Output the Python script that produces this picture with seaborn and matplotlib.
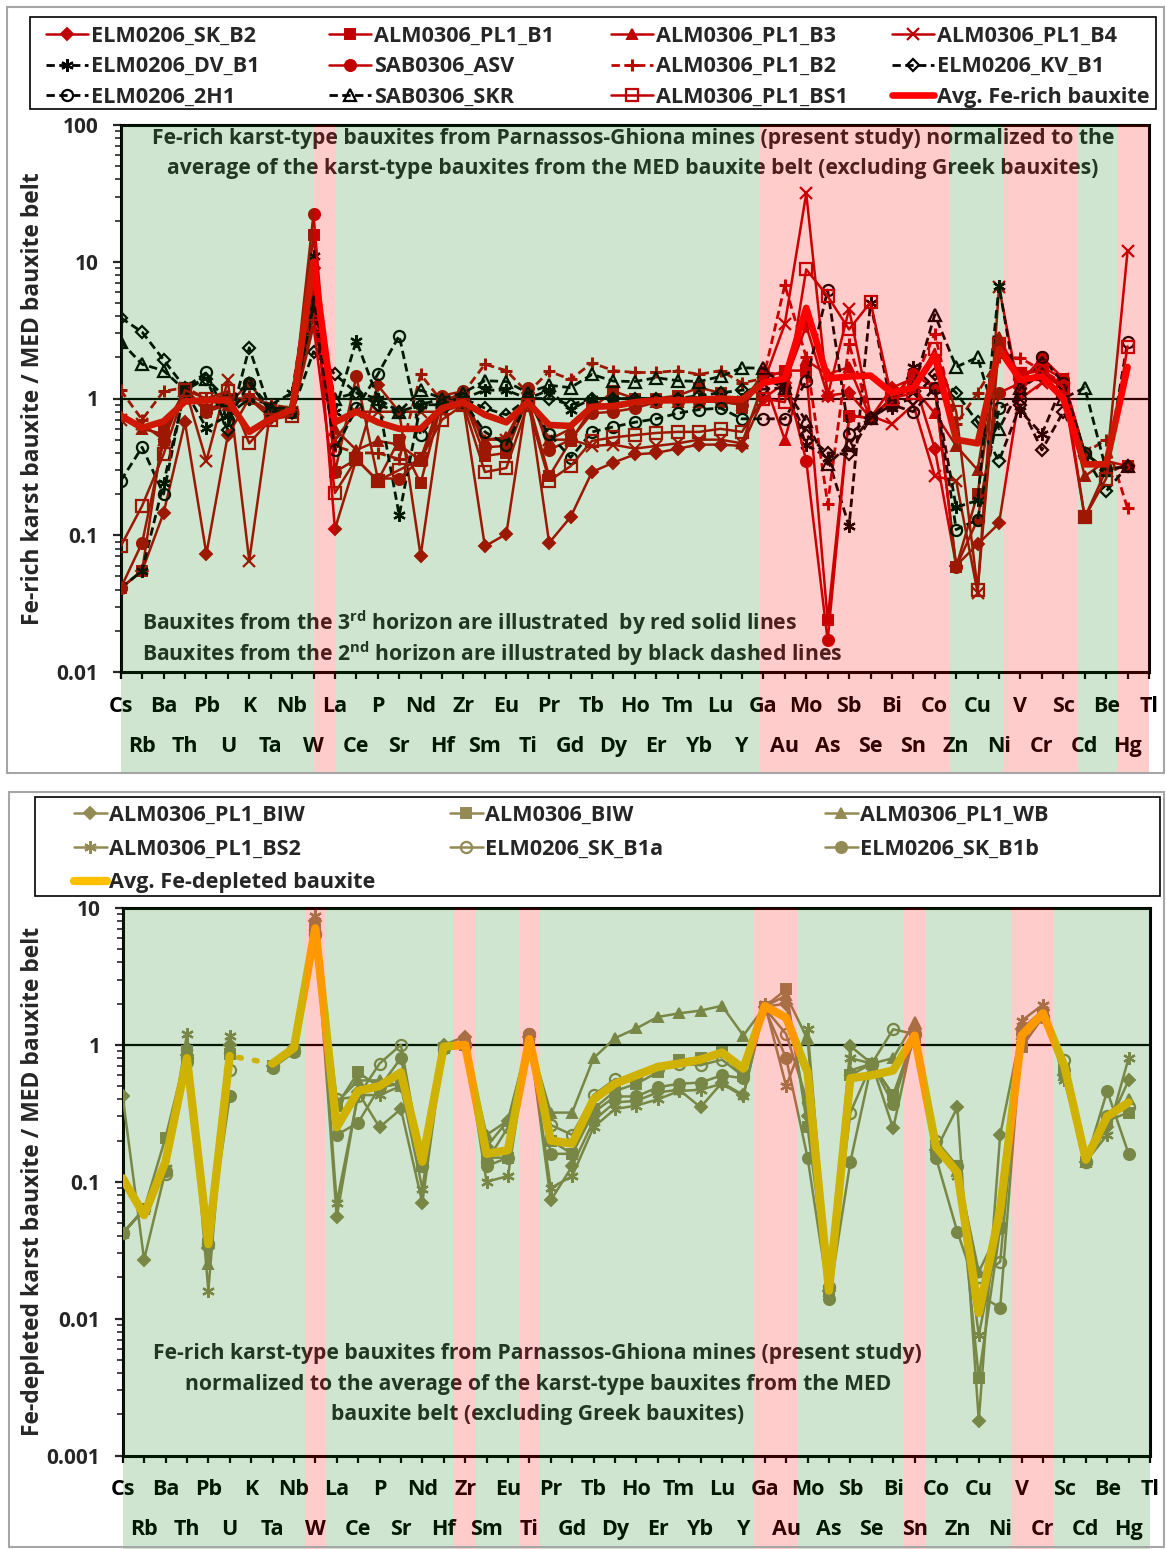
import numpy as np
import matplotlib
matplotlib.use('Agg')
import matplotlib.pyplot as plt
import matplotlib.transforms as mtransforms
from matplotlib.patches import Rectangle
from matplotlib.lines import Line2D
from matplotlib.ticker import FuncFormatter, NullFormatter, LogLocator
import seaborn as sns

nan = np.nan

# Elements on the x axis (Cs ... Tl)
elements = ['Cs', 'Rb', 'Ba', 'Th', 'Pb', 'U', 'K', 'Ta', 'Nb', 'W', 'La', 'Ce', 'P', 'Sr',
            'Nd', 'Hf', 'Zr', 'Sm', 'Eu', 'Ti', 'Pr', 'Gd', 'Tb', 'Dy', 'Ho', 'Er', 'Tm',
            'Yb', 'Lu', 'Y', 'Ga', 'Au', 'Mo', 'As', 'Sb', 'Se', 'Bi', 'Sn', 'Co', 'Zn',
            'Cu', 'Ni', 'V', 'Cr', 'Sc', 'Cd', 'Be', 'Hg', 'Tl']

# ---- Fe-rich bauxites (top panel) ----
elm_sk_b2 = [0.041, 0.055, 0.145, 0.67, 0.073, 0.54, 1.0, 0.72, 0.78, 9.0, 0.111, 0.36, 1.25, 0.8,
             0.071, 0.85, 0.9, 0.083, 0.102, 1.1, 0.088, 0.136, 0.29, 0.34, 0.39, 0.40, 0.43,
             0.46, 0.46, 0.45, 1.0, 1.3, 3.4, 1.05, 1.1, 0.72, 1.2, 1.4, 0.43, 0.06,
             0.086, 0.122, 1.2, 1.5, 1.3, 0.4, 0.3, 0.32, nan]
alm_pl1_b1 = [0.041, 0.055, 0.59, 1.15, 0.8, 1.0, 1.0, 0.8, 0.78, 15.7, 0.29, 0.36, 0.25, 0.5,
              0.24, 0.95, 1.0, 0.38, 0.4, 1.0, 0.27, 0.49, 0.85, 1.13, 1.0, 1.0, 1.05,
              1.2, 1.1, 0.85, 1.4, 1.6, 1.6, 0.024, 0.75, 0.72, 1.0, 1.2, 1.2, 0.059,
              0.2, 2.4, 1.5, 1.7, 1.4, 0.135, 0.3, 0.32, nan]
alm_pl1_b3 = [0.75, 0.6, 0.55, 1.1, 0.85, 0.9, 1.0, 0.75, 0.8, 6.0, 0.6, 0.42, 0.49, 0.46,
              0.35, 0.9, 1.0, 0.5, 0.52, 1.05, 0.5, 0.6, 0.9, 0.9, 0.95, 0.95, 0.95,
              0.95, 0.95, 0.9, 1.4, 0.5, 1.9, 1.5, 1.7, 0.72, 1.0, 1.2, 0.78, 0.45,
              0.3, 2.8, 1.4, 1.5, 1.2, 0.27, 0.35, 0.32, nan]
alm_pl1_b4 = [0.7, 0.65, 0.5, 1.2, 0.35, 1.36, 0.065, 0.85, 0.8, 4.0, 0.5, 0.8, 0.8, 0.8,
              0.8, 0.8, 0.9, 0.5, 0.5, 1.0, 0.5, 0.5, 0.45, 0.46, 0.43, 0.45, 0.47,
              0.5, 0.5, 0.47, 1.3, 3.5, 31.6, 1.05, 4.5, 0.75, 0.65, 0.9, 0.27, 0.25,
              0.038, 6.5, 1.0, 1.3, 1.4, 0.4, 0.3, 12.0, nan]
elm_dv_b1 = [0.041, 0.055, 0.24, 1.15, 0.61, 0.75, 1.0, 0.9, 1.1, 11.0, 0.8, 2.65, 1.0, 0.14,
             0.9, 1.0, 1.0, 1.15, 1.15, 1.0, 1.15, 0.83, 1.0, 1.0, 1.0, 1.0, 1.0,
             1.0, 1.0, 1.0, 1.4, 1.2, 0.46, 0.37, 0.117, 5.0, 0.85, 1.7, 1.2, 0.16,
             0.18, 6.7, 0.81, 0.55, 1.3, 0.4, 0.3, 0.32, nan]
sab_asv = [0.041, 0.088, 0.49, 1.2, 0.8, 0.9, 1.3, 0.8, 0.8, 22.4, 0.29, 1.45, 0.26, 0.26,
           0.36, 1.05, 1.13, 0.44, 0.45, 1.2, 0.42, 0.5, 0.78, 0.8, 0.85, 0.94, 0.95,
           0.95, 0.95, 0.9, 1.55, 1.5, 0.35, 0.017, 0.75, 0.72, 1.0, 1.5, 1.2, 0.059,
           0.13, 1.1, 1.3, 2.0, 1.4, 0.4, 0.3, 0.32, nan]
alm_pl1_b2 = [1.15, 0.7, 1.13, 1.2, 1.0, 1.05, 1.05, 0.9, 0.85, 3.9, 0.45, 0.4, 0.4, 0.36,
              1.5, 0.95, 1.1, 1.78, 1.6, 1.1, 1.58, 1.38, 1.82, 1.6, 1.55, 1.55, 1.6,
              1.5, 1.6, 1.3, 1.4, 6.76, 2.0, 0.17, 2.5, 0.72, 1.0, 1.3, 2.97, 0.65,
              1.1, 2.0, 1.98, 1.6, 1.3, 0.4, 0.5, 0.157, nan]
elm_kv_b1 = [3.9, 3.06, 1.92, 1.2, 1.4, 0.59, 2.35, 0.8, 0.8, 2.2, 1.5, 1.1, 0.9, 0.8,
             0.9, 0.9, 1.0, 0.85, 0.76, 1.0, 1.0, 0.9, 1.0, 1.0, 1.0, 1.0, 1.0,
             1.05, 1.1, 1.15, 1.17, 1.2, 0.54, 0.4, 0.39, 0.72, 0.9, 1.0, 1.5, 1.1,
             0.67, 0.35, 0.9, 0.42, 0.8, 0.38, 0.21, 0.32, nan]
elm_2h1 = [0.25, 0.44, 0.2, 1.2, 1.55, 0.7, 1.3, 0.8, 0.8, 4.8, 0.42, 0.85, 1.5, 2.88,
           0.54, 0.85, 0.95, 0.57, 0.46, 0.95, 0.55, 0.37, 0.57, 0.62, 0.67, 0.71, 0.78,
           0.83, 0.85, 0.71, 0.71, 0.71, 1.34, 6.2, 0.55, 0.72, 0.9, 0.8, 1.2, 0.11,
           0.13, 0.85, 1.0, 2.0, 1.3, 0.4, 0.3, 2.6, nan]
sab_skr = [2.6, 1.78, 1.6, 1.15, 1.4, 0.97, 1.3, 0.85, 0.85, 5.05, 1.0, 1.1, 1.0, 0.8,
           1.15, 1.0, 1.1, 1.35, 1.33, 1.1, 1.25, 1.2, 1.5, 1.34, 1.33, 1.42, 1.35,
           1.33, 1.45, 1.68, 1.66, 1.2, 0.68, 0.33, 0.46, 0.72, 1.0, 1.2, 4.1, 1.7,
           2.0, 0.6, 1.2, 1.5, 1.0, 1.2, 0.3, 0.32, nan]
alm_pl1_bs1 = [0.083, 0.164, 0.39, 1.15, 1.0, 1.13, 0.47, 0.7, 0.75, 3.4, 0.204, 0.36, 0.25, 0.3,
               0.36, 0.7, 0.9, 0.29, 0.31, 0.9, 0.25, 0.32, 0.49, 0.52, 0.54, 0.56, 0.57,
               0.57, 0.6, 0.57, 1.0, 0.94, 8.8, 5.6, 3.2, 5.05, 1.0, 1.1, 2.3, 0.8,
               0.04, 2.5, 1.5, 1.6, 1.2, 0.135, 0.26, 2.4, nan]
avg_fe_rich = [0.75, 0.61, 0.68, 0.95, 0.97, 0.97, 0.57, 0.71, 0.83, 10.0, 0.67, 0.8, 0.67, 0.6,
               0.6, 0.85, 0.94, 0.76, 0.67, 0.94, 0.64, 0.63, 0.87, 0.88, 0.94, 0.97, 0.97,
               0.98, 1.0, 0.98, 1.3, 1.4, 4.6, 1.4, 1.45, 1.47, 1.1, 1.2, 2.05, 0.5,
               0.47, 2.3, 1.37, 1.45, 1.0, 0.33, 0.33, 1.7, nan]

# ---- Fe-depleted bauxites (bottom panel) ----
alm_pl1_biw = [0.42, 0.027, 0.12, 0.85, 0.033, 1.0, nan, 0.7, 0.95, 8.0, 0.055, 0.45, 0.25, 0.34,
               0.07, 1.0, 1.15, 0.18, 0.28, 1.15, 0.073, 0.13, 0.28, 0.38, 0.39, 0.45, 0.47,
               0.35, 0.53, 0.43, 1.9, 2.0, 0.3, 0.016, 0.98, 0.73, 0.245, 1.3, 0.17, 0.35,
               0.0018, 0.22, 1.3, 1.8, 0.6, 0.14, 0.25, 0.55, nan]
alm_biw = [0.042, 0.063, 0.21, 0.9, 0.035, 0.86, nan, 0.7, 0.9, 7.0, 0.36, 0.63, 0.49, 0.52,
           0.13, 0.95, 1.0, 0.15, 0.15, 1.1, 0.2, 0.16, 0.34, 0.46, 0.52, 0.63, 0.78,
           0.8, 0.88, 0.59, 1.9, 2.54, 0.25, 0.016, 0.6, 0.73, 0.43, 1.1, 0.17, 0.13,
           0.0037, 0.046, 0.96, 1.6, 0.65, 0.14, 0.28, 0.32, nan]
alm_pl1_wb = [0.042, 0.063, 0.13, 1.0, 0.025, 0.95, nan, 0.7, 1.0, 7.5, 0.38, 0.55, 0.55, 0.5,
              0.15, 1.0, 1.05, 0.22, 0.28, 1.1, 0.32, 0.32, 0.8, 1.12, 1.32, 1.6, 1.7,
              1.78, 1.93, 1.17, 1.9, 2.3, 1.1, 0.016, 0.65, 0.73, 0.8, 1.47, 0.18, 0.12,
              0.022, 0.046, 1.2, 1.7, 0.6, 0.14, 0.3, 0.4, nan]
alm_pl1_bs2 = [0.042, 0.063, 0.125, 1.2, 0.016, 1.17, nan, 0.7, 0.95, 8.8, 0.07, 0.43, 0.43, 0.5,
               0.089, 0.95, 1.0, 0.1, 0.11, 1.15, 0.09, 0.11, 0.25, 0.34, 0.36, 0.4, 0.46,
               0.47, 0.52, 0.42, 2.0, 0.5, 1.3, 0.017, 0.8, 0.73, 0.43, 1.2, 0.17, 0.11,
               0.0076, 0.046, 1.5, 1.97, 0.55, 0.14, 0.22, 0.8, nan]
elm_sk_b1a = [0.042, 0.063, 0.113, 0.8, 0.035, 0.65, nan, 0.7, 0.9, 6.5, 0.4, 0.42, 0.73, 1.0,
              0.13, 0.95, 1.0, 0.14, 0.25, 1.2, 0.26, 0.22, 0.43, 0.56, 0.57, 0.67, 0.73,
              0.71, 0.78, 0.59, 1.85, 1.2, 0.38, 0.017, 0.32, 0.73, 1.3, 1.2, 0.2, 0.13,
              0.02, 0.026, 1.3, 1.6, 0.78, 0.14, 0.3, 0.35, nan]
elm_sk_b1b = [0.042, 0.063, 0.12, 0.75, 0.035, 0.42, nan, 0.68, 0.88, 6.3, 0.22, 0.27, 0.49, 0.8,
              0.13, 0.95, 1.0, 0.13, 0.15, 1.2, 0.16, 0.16, 0.32, 0.42, 0.42, 0.49, 0.52,
              0.53, 0.6, 0.57, 1.85, 0.8, 0.15, 0.014, 0.14, 0.73, 0.37, 1.2, 0.15, 0.043,
              0.015, 0.012, 1.2, 1.6, 0.65, 0.14, 0.46, 0.16, nan]
avg_fe_depleted = [0.106, 0.057, 0.14, 0.8, 0.035, 0.83, nan, 0.73, 0.95, 7.1, 0.25, 0.46, 0.5, 0.63,
                   0.14, 0.97, 1.0, 0.16, 0.17, 1.1, 0.2, 0.19, 0.4, 0.52, 0.6, 0.69, 0.73,
                   0.78, 0.88, 0.67, 1.92, 1.58, 0.63, 0.016, 0.57, 0.6, 0.65, 1.17, 0.18, 0.117,
                   0.011, 0.063, 1.17, 1.7, 0.7, 0.145, 0.3, 0.38, nan]

# elements shaded pink in the lower panel
pink_lower = ['W', 'Zr', 'Ti', 'Ga', 'Au', 'Sn', 'V', 'Cr']

# ---- style ----
sns.set_style('ticks')
plt.rcParams['font.family'] = ['Open Sans', 'DejaVu Sans']
plt.rcParams['font.weight'] = 'bold'
plt.rcParams['mathtext.fontset'] = 'custom'
plt.rcParams['mathtext.rm'] = 'Open Sans:bold'
plt.rcParams['mathtext.bf'] = 'Open Sans:bold'

W, H = 1166, 1549
fig = plt.figure(figsize=(W / 100, H / 100), dpi=100)
fig.patch.set_facecolor('white')


def px_axes(l, t, r, b):
    return fig.add_axes([l / W, 1 - b / H, (r - l) / W, (b - t) / H])


ax1 = px_axes(120.7, 125, 1149, 672)
ax2 = px_axes(122.7, 908, 1150, 1455.5)

RED = '#C00000'
BLK = '#000000'
OLV = '#948A54'


def draw(ax, vals, color, marker, ls='-', lw=1.8, ms=7, mfc=None, mew=1.4, z=3):
    x = np.arange(len(vals))
    y = np.asarray(vals, float)
    ok = ~np.isnan(y)
    cuts = np.where(np.diff(ok.astype(int)) != 0)[0] + 1
    for seg in np.split(np.arange(len(y)), cuts):
        if not ok[seg[0]]:
            continue
        sns.lineplot(x=x[seg], y=y[seg], ax=ax, color=color, marker=marker, linestyle=ls,
                     linewidth=lw, markersize=ms,
                     markerfacecolor=color if mfc is None else mfc,
                     markeredgecolor=color, markeredgewidth=mew, zorder=z,
                     estimator=None, sort=False, legend=False)
    return Line2D([], [], color=color, marker=marker, linestyle=ls, linewidth=lw,
                  markersize=ms, markerfacecolor=color if mfc is None else mfc,
                  markeredgecolor=color, markeredgewidth=mew)


dash = (0, (3, 1.6))
star6 = (6, 2, 0)

# ---- top panel ----
h = {}
h['ELM0206_SK_B2'] = draw(ax1, elm_sk_b2, RED, 'D', ms=6)
h['ALM0306_PL1_B1'] = draw(ax1, alm_pl1_b1, RED, 's', ms=7)
h['ALM0306_PL1_B3'] = draw(ax1, alm_pl1_b3, RED, '^', ms=7)
h['ALM0306_PL1_B4'] = draw(ax1, alm_pl1_b4, RED, 'x', ms=8, mew=1.6)
h['ELM0206_DV_B1'] = draw(ax1, elm_dv_b1, BLK, star6, ls=dash, lw=2, ms=9, mew=1.6)
h['SAB0306_ASV'] = draw(ax1, sab_asv, RED, 'o', ms=8)
h['ALM0306_PL1_B2'] = draw(ax1, alm_pl1_b2, RED, '+', ls=dash, lw=2, ms=9, mew=2.2)
h['ELM0206_KV_B1'] = draw(ax1, elm_kv_b1, BLK, 'D', ls=dash, lw=2, ms=6, mfc='none', mew=1.6)
h['ELM0206_2H1'] = draw(ax1, elm_2h1, BLK, 'o', ls=dash, lw=2, ms=8, mfc='none', mew=1.6)
h['SAB0306_SKR'] = draw(ax1, sab_skr, BLK, '^', ls=dash, lw=2, ms=8, mfc='none', mew=1.6)
h['ALM0306_PL1_BS1'] = draw(ax1, alm_pl1_bs1, RED, 's', ms=8, mfc='none', mew=1.6)
h['Avg. Fe-rich bauxite'] = draw(ax1, avg_fe_rich, '#FF0000', None, lw=4.8, z=4)

top_rows = ['ELM0206_SK_B2', 'ALM0306_PL1_B1', 'ALM0306_PL1_B3', 'ALM0306_PL1_B4',
            'ELM0206_DV_B1', 'SAB0306_ASV', 'ALM0306_PL1_B2', 'ELM0206_KV_B1',
            'ELM0206_2H1', 'SAB0306_SKR', 'ALM0306_PL1_BS1', 'Avg. Fe-rich bauxite']

# ---- bottom panel ----
g = {}
g['ALM0306_PL1_BIW'] = draw(ax2, alm_pl1_biw, OLV, 'D', ms=6)
g['ALM0306_BIW'] = draw(ax2, alm_biw, OLV, 's', ms=7)
g['ALM0306_PL1_WB'] = draw(ax2, alm_pl1_wb, OLV, '^', ms=7)
g['ALM0306_PL1_BS2'] = draw(ax2, alm_pl1_bs2, OLV, star6, ms=9, mew=1.6)
g['ELM0206_SK_B1a'] = draw(ax2, elm_sk_b1a, OLV, 'o', ms=8, mfc='none', mew=1.6)
g['ELM0206_SK_B1b'] = draw(ax2, elm_sk_b1b, OLV, 'o', ms=8)
g['Avg. Fe-depleted bauxite'] = draw(ax2, avg_fe_depleted, '#FFC000', None, lw=6, z=4)
# dotted bridge of the average across the missing K value
iu, it = elements.index('U'), elements.index('Ta')
sns.lineplot(x=[iu, it], y=[avg_fe_depleted[iu], avg_fe_depleted[it]], ax=ax2,
             color='#FFC000', linestyle=(1.3, (0.5, 2.4)), linewidth=4, zorder=4,
             dash_capstyle='round', estimator=None, sort=False, legend=False)

bot_rows = ['ALM0306_PL1_BIW', 'ALM0306_BIW', 'ALM0306_PL1_WB',
            'ALM0306_PL1_BS2', 'ELM0206_SK_B1a', 'ELM0206_SK_B1b',
            'Avg. Fe-depleted bauxite']

# ---- axes cosmetics ----
n = len(elements)
for ax, ylo, yhi in [(ax1, 0.01, 100), (ax2, 0.001, 10)]:
    ax.set_yscale('log')
    ax.set_ylim(ylo, yhi)
    ax.set_xlim(0, n - 1)
    ax.axhline(1, color='black', lw=1.6, zorder=2)
    ax.set_xticks(range(0, n, 2), labels=elements[0::2])
    ax.set_xticks(range(1, n, 2), labels=elements[1::2], minor=True)
    ax.tick_params(axis='x', which='both', direction='out', length=5, width=1.6,
                   labelsize=15.5, colors='black')
    ax.tick_params(axis='x', which='major', pad=12)
    ax.tick_params(axis='x', which='minor', pad=41)
    ax.yaxis.set_major_locator(LogLocator(base=10))
    ax.yaxis.set_minor_locator(LogLocator(base=10, subs=np.arange(2, 10)))
    ax.yaxis.set_major_formatter(FuncFormatter(lambda v, _: f'{v:g}'))
    ax.yaxis.set_minor_formatter(NullFormatter())
    ax.tick_params(axis='y', which='major', direction='out', length=6, width=1.6,
                   labelsize=15, pad=10)
    ax.tick_params(axis='y', which='minor', direction='out', length=4, width=1.2)
    for sp in ax.spines.values():
        sp.set_linewidth(2.2)
        sp.set_color('black')
    ax.set_facecolor('white')
    ax.set_xlabel('')

ax1.set_ylabel('Fe-rich karst bauxite / MED bauxite belt', fontsize=16.5, fontweight='bold')
ax1.yaxis.set_label_coords(-0.074, 0.5)
ax2.set_ylabel('Fe-depleted karst bauxite / MED bauxite belt', fontsize=16.5, fontweight='bold')
ax2.yaxis.set_label_coords(-0.076, 0.5)

# ---- annotations ----
FS = 15.2
ax1.text(0.498, 0.976, 'Fe-rich karst-type bauxites from Parnassos-Ghiona mines (present study) '
         'normalized to the', transform=ax1.transAxes, ha='center', va='center', fontsize=FS)
ax1.text(0.498, 0.920, 'average of the karst-type bauxites from the MED bauxite belt '
         '(excluding Greek bauxites)', transform=ax1.transAxes, ha='center', va='center',
         fontsize=FS)
ax1.text(0.0207, 0.0896, r'Bauxites from the 3$^{\mathbf{rd}}$ horizon are illustrated  by red solid lines',
         transform=ax1.transAxes, ha='left', va='center', fontsize=FS)
ax1.text(0.0207, 0.0329, r'Bauxites from the 2$^{\mathbf{nd}}$ horizon are illustrated by black dashed lines',
         transform=ax1.transAxes, ha='left', va='center', fontsize=FS)
for txt, yy in [('Fe-rich karst-type bauxites from Parnassos-Ghiona mines (present study)', 0.1872),
                ('normalized to the average of the karst-type bauxites from the MED', 0.1288),
                ('bauxite belt (excluding Greek bauxites)', 0.0740)]:
    ax2.text(0.404, yy, txt, transform=ax2.transAxes, ha='center', va='center', fontsize=FS)

# ---- translucent green / pink shading laid over everything ----
GREEN = (15 / 255, 125 / 255, 15 / 255)
PINK = (1.0, 0.0, 0.0)


def shade(ax, spans, ybot):
    tr = mtransforms.blended_transform_factory(ax.transData, ax.transAxes)
    for x0, x1, col in spans:
        ax.add_patch(Rectangle((x0, ybot), x1 - x0, 1 - ybot, transform=tr, facecolor=col,
                               alpha=0.2, lw=0, clip_on=False, zorder=10))


top_edges = [0, 9.0, 10.05, 29.85, 38.7, 41.2, 44.7, 46.5, 48]
top_spans = [(top_edges[i], top_edges[i + 1], PINK if i % 2 else GREEN)
             for i in range(len(top_edges) - 1)]
shade(ax1, top_spans, -0.183)

bot_spans = []
cur = 0.0
for el in pink_lower:
    i = elements.index(el)
    if i - 0.5 > cur:
        bot_spans.append((cur, i - 0.5, GREEN))
    bot_spans.append((i - 0.5, i + 0.5, PINK))
    cur = i + 0.5
bot_spans.append((cur, n - 1, GREEN))
shade(ax2, bot_spans, -0.171)

ax1.set_xlim(0, n - 1)
ax2.set_xlim(0, n - 1)
ax1.set_ylim(0.01, 100)
ax2.set_ylim(0.001, 10)


# ---- legends: one frameless legend per column inside a drawn box ----
def grid_legend(handles, rows, ncol, col_x, top_y, hl, lsp, box):
    for c in range(ncol):
        names = rows[c::ncol]
        fig.legend([handles[k] for k in names], names, loc='upper left',
                   bbox_to_anchor=(col_x[c] / W, 1 - top_y / H), bbox_transform=fig.transFigure,
                   frameon=False, borderpad=0, borderaxespad=0, fontsize=15.6,
                   handlelength=hl, handletextpad=0.12, labelspacing=lsp)
    x0, y0, x1, y1 = box
    fig.add_artist(Rectangle((x0 / W, 1 - y1 / H), (x1 - x0) / W, (y1 - y0) / H,
                             transform=fig.transFigure, fill=False, edgecolor='black', lw=1.2))


grid_legend(h, top_rows, 4, [46, 329, 611, 892], 26, 1.95, 0.43, (30, 17, 1156, 109))
grid_legend(g, bot_rows, 3, [74, 450, 825], 805, 1.5, 0.58, (35, 797, 1160, 896))

# ---- panel borders ----
fig.add_artist(Rectangle((7 / W, 1 - 773 / H), 1157 / W, 766 / H, transform=fig.transFigure,
                         fill=False, edgecolor='#A6A6A6', lw=1.5))
fig.add_artist(Rectangle((9 / W, 1 - 1547 / H), 1155 / W, 755 / H, transform=fig.transFigure,
                         fill=False, edgecolor='#A6A6A6', lw=1.5))

fig.savefig('out.png', dpi=100, facecolor='white')
